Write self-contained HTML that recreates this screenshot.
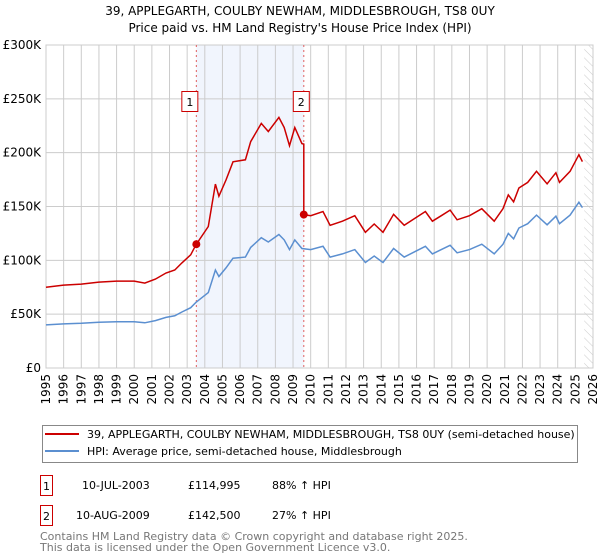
<!DOCTYPE html>
<html><head><meta charset="utf-8"><style>
body{margin:0;background:#fff;font-family:"DejaVu Sans","Liberation Sans",sans-serif;}
#wrap{position:relative;width:600px;height:560px;overflow:hidden}
</style></head><body><div id="wrap">
<svg id="chart" width="600" height="560" style="position:absolute;left:0;top:0">
<defs><pattern id="hatch" width="6" height="6" patternUnits="userSpaceOnUse" patternTransform="rotate(-45)"><line x1="0" y1="0" x2="0" y2="6" stroke="#ccc" stroke-width="1"/></pattern></defs>
<text x="300" y="15" text-anchor="middle" font-size="12">39, APPLEGARTH, COULBY NEWHAM, MIDDLESBROUGH, TS8 0UY</text>
<text x="300" y="32" text-anchor="middle" font-size="12">Price paid vs. HM Land Registry's House Price Index (HPI)</text>
<g id="g"></g>
</svg>
<div style="position:absolute;left:42px;top:425px;width:534px;height:36px;border:1px solid #888;"></div>
<svg width="600" height="560" style="position:absolute;left:0;top:0;pointer-events:none">
<line x1="45" y1="434" x2="79" y2="434" stroke="#cc0000" stroke-width="2"/>
<line x1="45" y1="451" x2="79" y2="451" stroke="#5b8fd0" stroke-width="2"/>
<text x="87" y="438" font-size="11">39, APPLEGARTH, COULBY NEWHAM, MIDDLESBROUGH, TS8 0UY (semi-detached house)</text>
<text x="87" y="455" font-size="11">HPI: Average price, semi-detached house, Middlesbrough</text>
<rect x="40.5" y="475.5" width="12" height="20" fill="#fff" stroke="#cc0000"/>
<text x="46.5" y="490" font-size="11" text-anchor="middle">1</text>
<text x="82" y="489" font-size="11">10-JUL-2003</text>
<text x="188" y="489" font-size="11">£114,995</text>
<text x="272" y="489" font-size="11">88% ↑ HPI</text>
<rect x="40.5" y="505.5" width="12" height="20" fill="#fff" stroke="#cc0000"/>
<text x="46.5" y="520" font-size="11" text-anchor="middle">2</text>
<text x="76" y="519" font-size="11">10-AUG-2009</text>
<text x="188" y="519" font-size="11">£142,500</text>
<text x="272" y="519" font-size="11">27% ↑ HPI</text>
<text x="40" y="540" font-size="11" fill="#777">Contains HM Land Registry data © Crown copyright and database right 2025.</text>
<text x="40" y="551" font-size="11" fill="#777">This data is licensed under the Open Government Licence v3.0.</text>
</svg>
</div>
<script>
const hpiYears=[1995,1996,1997,1998,1999,2000,2000.6,2001.2,2001.8,2002.3,2002.7,2003.2,2003.5,2004.2,2004.6,2004.8,2005.2,2005.6,2006.3,2006.6,2007.2,2007.6,2008.2,2008.5,2008.8,2009.1,2009.5,2010,2010.7,2011.1,2011.8,2012.5,2013.1,2013.6,2014.1,2014.7,2015.3,2015.9,2016.5,2016.9,2017.4,2017.9,2018.3,2019,2019.7,2020.4,2020.9,2021.2,2021.5,2021.8,2022.3,2022.8,2023.4,2023.9,2024.1,2024.7,2025.2,2025.4];
const hpiVals=[40000,41000,41500,42500,43000,43000,42000,44000,47000,48500,52000,56000,61000,70000,91000,85000,93000,102000,103000,112000,121000,117000,124000,119000,110000,119000,111000,110000,113000,103000,106000,110000,98000,104000,98000,111000,103000,108000,113000,106000,110000,114000,107000,110000,115000,106000,115000,125000,120000,130000,134000,142000,133000,141000,134000,142000,154000,149000];
const saleYears=[2003.52,2009.61];
const salePrices=[114995,142500];
const saleLabels=["1","2"];
const yTicks=[0,50000,100000,150000,200000,250000,300000];
const yTickLabels=["£0","£50K","£100K","£150K","£200K","£250K","£300K"];
const xTicks=[];for(let y=1995;y<=2026;y++)xTicks.push(y);
const L=46,R=593,T=45,B=368;
const x=v=>L+(v-1995)*(R-L)/31;
const y=v=>B-v*(B-T)/300000;
const g=document.getElementById('g');const NS='http://www.w3.org/2000/svg';
function mk(tag,a,name){const e=document.createElementNS(NS,tag);for(const k in a)e.setAttribute(k,a[k]);g.appendChild(e);


return e;}
function hpiAt(t){for(let i=0;i<hpiYears.length-1;i++){if(t<=hpiYears[i+1]){const f=(t-hpiYears[i])/(hpiYears[i+1]-hpiYears[i]);return hpiVals[i]+f*(hpiVals[i+1]-hpiVals[i]);}}return hpiVals[hpiVals.length-1];}
mk('rect',{x:x(saleYears[0]),y:T,width:x(saleYears[1])-x(saleYears[0]),height:B-T,fill:'#eef3fd',opacity:0.8},'ownership-band');
mk('rect',{x:x(2025.5),y:T,width:R-x(2025.5),height:B-T,fill:'url(#hatch)'},'future-hatch');
xTicks.forEach(v=>{mk('line',{x1:x(v),x2:x(v),y1:T,y2:B,stroke:'#ccc'},'x-gridline');
const xx=x(v)+4,yy=B+6;
const t=mk('text',{x:xx,y:yy,'text-anchor':'end','font-size':12,transform:'rotate(-90 '+xx+' '+yy+')'},'x-tick-label');t.textContent=v;});
yTicks.forEach((v,i)=>{mk('line',{x1:L,x2:R,y1:y(v),y2:y(v),stroke:'#ccc'},'y-gridline');
const t=mk('text',{x:L-5,y:y(v)+4,'text-anchor':'end','font-size':12},'y-tick-label');t.textContent=yTickLabels[i];});
mk('rect',{x:L,y:T,width:R-L,height:B-T,fill:'none',stroke:'#ccc'},'plot-border');
saleYears.forEach((s,i)=>{mk('line',{x1:x(s),x2:x(s),y1:T,y2:B,stroke:'#e06060','stroke-dasharray':'2,3'},'sale-vline');
const bx=x(s)-9-(i==0?4:0);mk('rect',{x:bx-1.5,y:91.5,width:16,height:20,fill:'#fff',stroke:'#cc0000'},'sale-marker-box');
const t=mk('text',{x:bx+6.5,y:106,'text-anchor':'middle','font-size':11},'sale-marker-label');t.textContent=saleLabels[i];});
const h0=hpiAt(saleYears[0]),h1=hpiAt(saleYears[1]);
let bp='',rp='';
hpiYears.forEach((t,i)=>{bp+=(i?'L':'M')+x(t).toFixed(1)+','+y(hpiVals[i]).toFixed(1);});
const pts=[];hpiYears.forEach((t,i)=>{if(t<saleYears[1])pts.push([t,hpiVals[i]*salePrices[0]/h0]);});
pts.push([saleYears[1],h1*salePrices[0]/h0]);pts.push([saleYears[1],salePrices[1]]);
hpiYears.forEach((t,i)=>{if(t>saleYears[1])pts.push([t,hpiVals[i]*salePrices[1]/h1]);});
pts.forEach((p,i)=>{rp+=(i?'L':'M')+x(p[0]).toFixed(1)+','+y(p[1]).toFixed(1);});
mk('path',{d:bp,fill:'none',stroke:'#5b8fd0','stroke-width':1.5},'hpi-line');
mk('path',{d:rp,fill:'none',stroke:'#cc0000','stroke-width':1.5},'property-line');
saleYears.forEach((s,i)=>mk('circle',{cx:x(s),cy:y(salePrices[i]),r:4,fill:'#cc0000'},'sale-point'));
</script></body></html>
